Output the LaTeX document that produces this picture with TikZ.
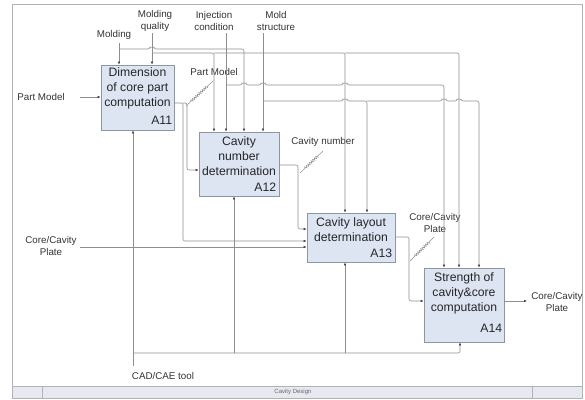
\documentclass[tikz,border=0pt]{standalone}
\usepackage{fontspec}
\setmainfont{Liberation Sans}
\usetikzlibrary{arrows.meta,calc,decorations.pathmorphing}

\definecolor{boxfill}{HTML}{DDE5F2}
\definecolor{boxline}{HTML}{8E96A3}
\definecolor{linegray}{HTML}{8E8E8E}
\definecolor{barfill}{HTML}{E6EAF0}

\tikzset{
	func/.style={draw=boxline, fill=boxfill, line width=0.7pt, inner sep=0pt},
	ftext/.style={align=center, font=\fontsize{12.2}{15}\selectfont, inner sep=0pt, text=black!85},
	fnum/.style={anchor=south east, font=\fontsize{12.2}{15}\selectfont, inner sep=0pt, text=black!85},
	lab/.style={align=center, font=\fontsize{9.8}{12}\selectfont, inner sep=0pt, text=black!80},
	flow/.style={draw=linegray, line width=0.6pt, rounded corners=2pt, -{Latex[length=3pt,width=2.6pt,color=black!75]}},
	squig/.style={draw=linegray, line width=0.5pt, decorate, decoration={zigzag, amplitude=1.2pt, segment length=2.2pt, pre length=7pt, post length=7pt}},
	hop/.style={start angle=180, end angle=360, radius=2},
}

\begin{document}
\begin{tikzpicture}[x=1pt,y=-1pt]
	\useasboundingbox (0,0) rectangle (585,399);
	\draw[gray!60, line width=0.6pt] (12,4) rectangle (582,398);
	\filldraw[draw=gray!60, fill=barfill, line width=0.5pt] (12,386) rectangle (582,398);
	\draw[gray!60] (42,386) -- (42,398);
	\draw[gray!60] (532,386) -- (532,398);
	\node[font=\fontsize{6}{7}\selectfont, text=gray!80!black] (title) at (293,392) {Cavity Design};

	\node[func, minimum width=73pt, minimum height=65pt] (a11) at (137.5,97.5) {};
	\node[ftext] (t11) at (137.5,88) {Dimension\\of core part\\computation};
	\node[fnum] (n11) at ($(a11.south east)+(-2,-6)$) {A11};

	\node[func, minimum width=80pt, minimum height=64pt] (a12) at (239,164) {};
	\node[ftext] (t12) at (239,156) {Cavity\\number\\determination};
	\node[fnum] (n12) at ($(a12.south east)+(-3,-5)$) {A12};

	\node[func, minimum width=88pt, minimum height=49pt] (a13) at (351,237.5) {};
	\node[ftext] (t13) at (351,229.5) {Cavity layout\\determination};
	\node[fnum] (n13) at ($(a13.south east)+(-3,-5)$) {A13};

	\node[func, minimum width=80pt, minimum height=74pt] (a14) at (464,305) {};
	\node[ftext] (t14) at (464,293.5) {Strength of\\cavity\&core\\computation};
	\node[fnum] (n14) at ($(a14.south east)+(-2,-10)$) {A14};

	\node[lab] (molding) at (114,35) {Molding};
	\node[lab] (quality) at (155,21) {Molding\\quality};
	\node[lab] (inject) at (214,21) {Injection\\condition};
	\node[lab] (mold) at (276,21) {Mold\\structure};
	\node[lab] (partin) at (41,97) {Part Model};
	\node[lab] (platein) at (51,246) {Core/Cavity\\Plate};
	\node[lab] (partmid) at (214,72) {Part Model};
	\node[lab] (cavnum) at (323,142) {Cavity number};
	\node[lab] (platemid) at (435,223) {Core/Cavity\\Plate};
	\node[lab] (plateout) at (557,302) {Core/Cavity\\Plate};
	\node[lab] (tool) at (163,376) {CAD/CAE tool};

	\coordinate (molding1) at (119,43);
	\coordinate (quality1) at (152,33);
	\coordinate (inject1) at (226,33);
	\coordinate (mold1) at (263,33);
	\coordinate (partin1) at (80,97);
	\coordinate (platein1) at (80,247);
	\coordinate (tool1) at (133,366);

	\draw[flow] (molding1) -- (molding1 |- a11.north);
	\draw[flow] (119,49) -- (150,49) arc[hop] -| (244,0 |- a12.north);
	\draw[flow] (quality1) -- (quality1 |- a11.north);
	\draw[flow] (152,53) -| (214,0 |- a12.north);
	\draw[flow] (214,53) -| (345,0 |- a13.north);
	\draw[flow] (345,53) -| (459,0 |- a14.north);
	\draw[flow] (inject1) -- (inject1 |- a12.north);
	\draw[flow] (226,85) -- (242,85) arc[hop] -- (261,85) arc[hop] -- (343,85) arc[hop] -| (444,0 |- a14.north);
	\draw[flow] (mold1) -- (mold1 |- a12.north);
	\draw[flow] (263,101) -- (343,101) arc[hop] -| (367,0 |- a13.north);
	\draw[flow] (367,101) -- (442,101) arc[hop] -- (457,101) arc[hop] -| (479,0 |- a14.north);

	\draw[flow] (partin1) -- (a11.west |- partin1);
	\draw[flow] (platein1) -- (a13.west |- platein1);
	\draw[flow] (a11.east |- 0,103) -| (183,241) -- (a13.west |- 0,241);
	\draw[flow] (183,103) -| (187,170) -- (a12.west |- 0,170);
	\draw[flow] (a12.east |- 0,165) -| (298,229) -- (a13.west |- 0,229);
	\draw[flow] (a13.east |- 0,237) -| (409,301) -- (a14.west |- 0,301);
	\draw[flow] (a14.east |- 0,301) -- (527,301);

	\draw[flow] (tool1) -- (tool1 |- a11.south);
	\draw[flow] (133,353) -| (460,0 |- a14.south);
	\draw[flow] (234,353) -- (234,0 |- a12.south);
	\draw[flow] (345,353) -- (345,0 |- a13.south);

	\draw[squig] (186,106) -- (213,81);
	\draw[squig] (300,173) -- (323,151);
	\draw[squig] (410,261) -- (434,237);
\end{tikzpicture}
\end{document}
